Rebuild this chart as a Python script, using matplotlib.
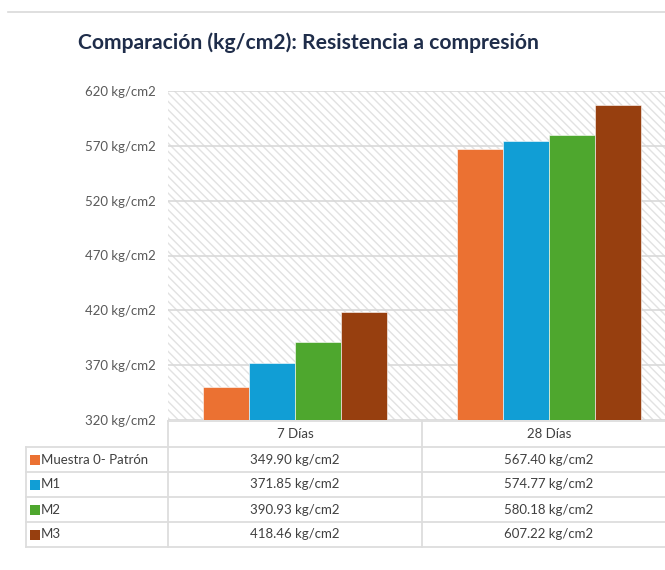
import numpy as np
import matplotlib.pyplot as plt
from matplotlib.patches import Rectangle
from matplotlib.lines import Line2D

# Datos
categorias = ["7 Días", "28 Días"]
series = ["Muestra 0- Patrón", "M1", "M2", "M3"]
valores_7 = [349.90, 371.85, 390.93, 418.46]
valores_28 = [567.40, 574.77, 580.18, 607.22]
colores = ["#EB7132", "#119ED5", "#4EA72E", "#973F0F"]
yticks = [320, 370, 420, 470, 520, 570, 620]

plt.rcParams["font.family"] = ["Lato", "DejaVu Sans"]
plt.rcParams["hatch.linewidth"] = 1.0

W, H = 665, 570
fig = plt.figure(figsize=(W / 100, H / 100), dpi=100)

# el grafico se corta por la derecha como en la captura
ax = fig.add_axes([168 / W, 150 / H, 508 / W, 329 / H])
ax.set_xlim(-0.5, 1.5)
ax.set_ylim(320, 620)

# fondo rayado
ax.add_patch(Rectangle((0, 0), 1, 1, transform=ax.transAxes, facecolor="white",
                       edgecolor="#e2e2e2", hatch="\\\\\\\\", linewidth=0, zorder=0))

for y in yticks:
    ax.axhline(y, color="#d9d9d9", linewidth=1.2, zorder=1)

ancho = 0.182
x = np.arange(len(categorias))
for i, s in enumerate(series):
    vals = [valores_7[i], valores_28[i]]
    ax.bar(x + (i - 1.5) * ancho, np.array(vals) - 320, bottom=320, width=ancho,
           color=colores[i], edgecolor="white", linewidth=0.4, zorder=2)

ax.set_yticks(yticks)
ax.set_yticklabels([f"{v} kg/cm2" for v in yticks], fontsize=9.5, color="#595959")
ax.tick_params(axis="y", length=0, pad=9)
ax.set_xticks([])
for sp in ax.spines.values():
    sp.set_visible(False)

# titulo
fig.text(78 / W, 1 - 43 / H, "Comparación (kg/cm2): Resistencia a compresión",
         fontsize=15.2, fontweight="bold", color="#1F2D4A", va="center", ha="left")

# linea superior
fig.add_artist(Line2D([8 / W, 1], [1 - 12 / H, 1 - 12 / H], color="#d9d9d9", linewidth=1.2))

# tabla de datos
gris = "#dddddd"
filas = [447, 472, 497, 522, 547]
def fy(p):
    return 1 - p / H

for yy in filas:
    fig.add_artist(Line2D([26 / W, 1], [fy(yy), fy(yy)], color=gris, linewidth=1.3))
fig.add_artist(Line2D([168 / W, 1], [fy(421), fy(421)], color=gris, linewidth=1.3))
fig.add_artist(Line2D([26 / W, 26 / W], [fy(447), fy(547)], color=gris, linewidth=1.3))
for xx in [168, 422]:
    fig.add_artist(Line2D([xx / W, xx / W], [fy(421), fy(547)], color=gris, linewidth=1.3))

texto = "#404040"
centros = [295, 549]
for c, cat in zip(centros, categorias):
    fig.text(c / W, fy(434), cat, fontsize=9.5, color=texto, ha="center", va="center")

for i, s in enumerate(series):
    yc = (filas[i] + filas[i + 1]) / 2
    fig.add_artist(Rectangle((30 / W, fy(yc + 5)), 10 / W, 10 / H, transform=fig.transFigure,
                             facecolor=colores[i], edgecolor="none"))
    fig.text(41 / W, fy(yc), s, fontsize=9.5, color=texto, ha="left", va="center")
    for c, v in zip(centros, [valores_7[i], valores_28[i]]):
        fig.text(c / W, fy(yc), f"{v:.2f} kg/cm2", fontsize=9.5, color=texto,
                 ha="center", va="center")

fig.savefig("out.png", dpi=100)
